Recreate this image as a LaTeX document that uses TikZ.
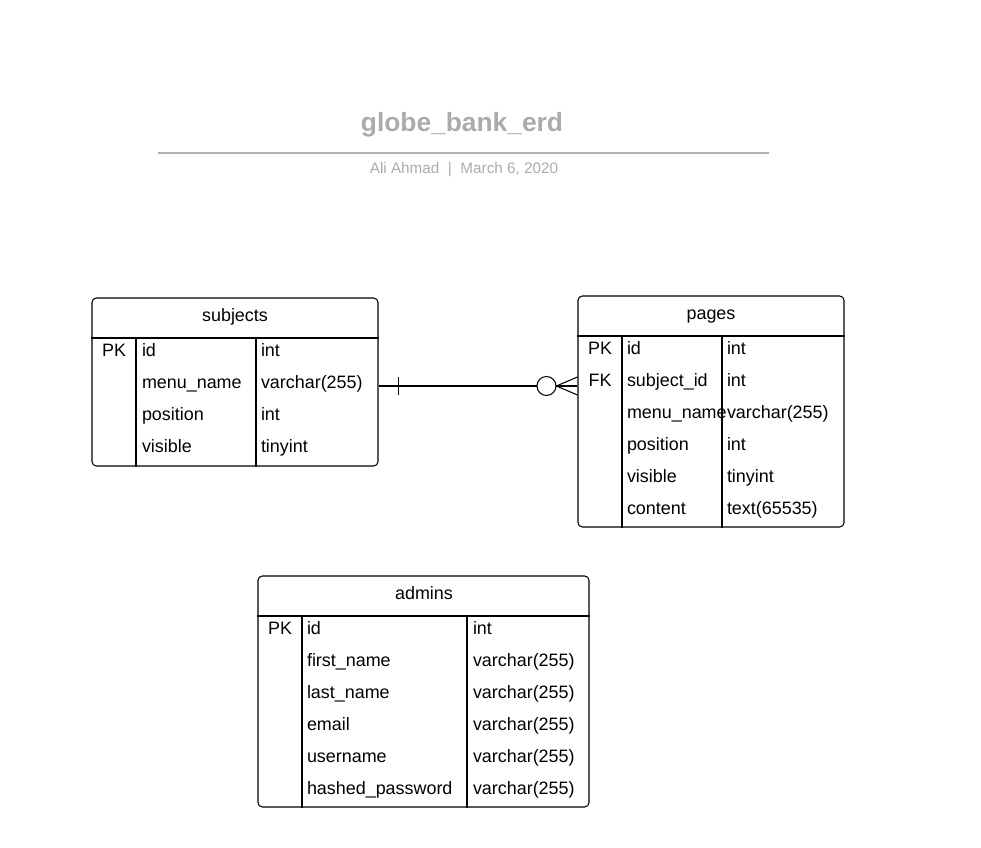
\documentclass[tikz,border=0pt]{standalone}
\usepackage{fontspec}
\setmainfont{Liberation Sans}
\usetikzlibrary{positioning,fit}
\definecolor{titlegray}{HTML}{ABABAB}
\definecolor{rulegray}{HTML}{B2B2B2}

\begin{document}
\begin{tikzpicture}[x=0.02cm, y=-0.02cm, node distance=0mm, line width=0.6pt,
                    tbl/.style={draw, rounded corners=2.5pt, inner sep=0pt},
                    cell/.style={inner sep=0pt, outer sep=0pt, minimum height=0.64cm, text height=1.5ex, text depth=.35ex,
                                 font=\fontsize{10.2}{12}\selectfont},
                    key/.style={cell, text width=0.8cm, align=center},
                    fld/.style={cell, text width=#1, align=left}]
\useasboundingbox (0,0) rectangle (981,848);
% title
\node[font=\fontsize{15}{18}\selectfont\bfseries, text=titlegray] (title) at (462,125) {globe\_bank\_erd};
\coordinate (r1) at (158,153);
\coordinate (r2) at (769,153);
\draw[rulegray, line width=1.1pt] (r1) -- (r2);
\node[font=\fontsize{8.7}{10}\selectfont, text=titlegray] (sub) at (464,170) {Ali Ahmad \ | \ March 6, 2020};

% subjects
\node[tbl, fit={(92,298) (378,466)}] (subjects) {};
\node[cell] (subjects-h) at (235,316) {subjects};
\draw (subjects.west |- 0,338) -- (subjects.east |- 0,338);
\draw (136,338) -- (subjects.south -| 136,0);
\draw (256,338) -- (subjects.south -| 256,0);
\node[key] (s1) at (114,351) {PK};
\node[fld=2.2cm] (s1n) at (197,351) {id};
\node[fld=2.2cm, below= of s1n] (s2n) {menu\_name};
\node[fld=2.2cm, below= of s2n] (s3n) {position};
\node[fld=2.2cm, below= of s3n] (s4n) {visible};
\node[fld=2.2cm] (s1t) at (316,351) {int};
\node[fld=2.2cm, below= of s1t] (s2t) {varchar(255)};
\node[fld=2.2cm, below= of s2t] (s3t) {int};
\node[fld=2.2cm, below= of s3t] (s4t) {tinyint};

% pages
\node[tbl, fit={(578,296) (844,527)}] (pages) {};
\node[cell] (pages-h) at (711,314) {pages};
\draw (pages.west |- 0,336) -- (pages.east |- 0,336);
\draw (622,336) -- (pages.south -| 622,0);
\draw (722,336) -- (pages.south -| 722,0);
\node[key] (p1) at (600,349) {PK};
\node[key, below= of p1] (p2) {FK};
\node[fld=1.9cm] (p1n) at (674.5,349) {id};
\node[fld=1.9cm, below= of p1n] (p2n) {subject\_id};
\node[fld=1.9cm, below= of p2n] (p3n) {menu\_name};
\node[fld=1.9cm, below= of p3n] (p4n) {position};
\node[fld=1.9cm, below= of p4n] (p5n) {visible};
\node[fld=1.9cm, below= of p5n] (p6n) {content};
\node[fld=2.2cm] (p1t) at (782,349) {int};
\node[fld=2.2cm, below= of p1t] (p2t) {int};
\node[fld=2.2cm, below= of p2t] (p3t) {varchar(255)};
\node[fld=2.2cm, below= of p3t] (p4t) {int};
\node[fld=2.2cm, below= of p4t] (p5t) {tinyint};
\node[fld=2.2cm, below= of p5t] (p6t) {text(65535)};

% admins
\node[tbl, fit={(258,576) (589,807)}] (admins) {};
\node[cell] (admins-h) at (424,594) {admins};
\draw (admins.west |- 0,616) -- (admins.east |- 0,616);
\draw (302,616) -- (admins.south -| 302,0);
\draw (467,616) -- (admins.south -| 467,0);
\node[key] (a1) at (280,629) {PK};
\node[fld=3.2cm] (a1n) at (387,629) {id};
\node[fld=3.2cm, below= of a1n] (a2n) {first\_name};
\node[fld=3.2cm, below= of a2n] (a3n) {last\_name};
\node[fld=3.2cm, below= of a3n] (a4n) {email};
\node[fld=3.2cm, below= of a4n] (a5n) {username};
\node[fld=3.2cm, below= of a5n] (a6n) {hashed\_password};
\node[fld=2.2cm] (a1t) at (528,629) {int};
\node[fld=2.2cm, below= of a1t] (a2t) {varchar(255)};
\node[fld=2.2cm, below= of a2t] (a3t) {varchar(255)};
\node[fld=2.2cm, below= of a3t] (a4t) {varchar(255)};
\node[fld=2.2cm, below= of a4t] (a5t) {varchar(255)};
\node[fld=2.2cm, below= of a5t] (a6t) {varchar(255)};

% subjects one -- zero or many pages
\coordinate (c1) at ([yshift=-3*0.02cm]subjects.east |- s2t);
\coordinate (c2) at ([yshift=-3*0.02cm]pages.west |- s2t);
\draw (c1) -- (c2);
\draw (c1) ++(20,-9) -- ++(0,18);
\draw (c2) ++(0,-9) -- ++(-21,9) -- ++(21,9);
\draw[fill=white] (c2) ++(-31,0) circle[radius=0.19cm];
\end{tikzpicture}
\end{document}
